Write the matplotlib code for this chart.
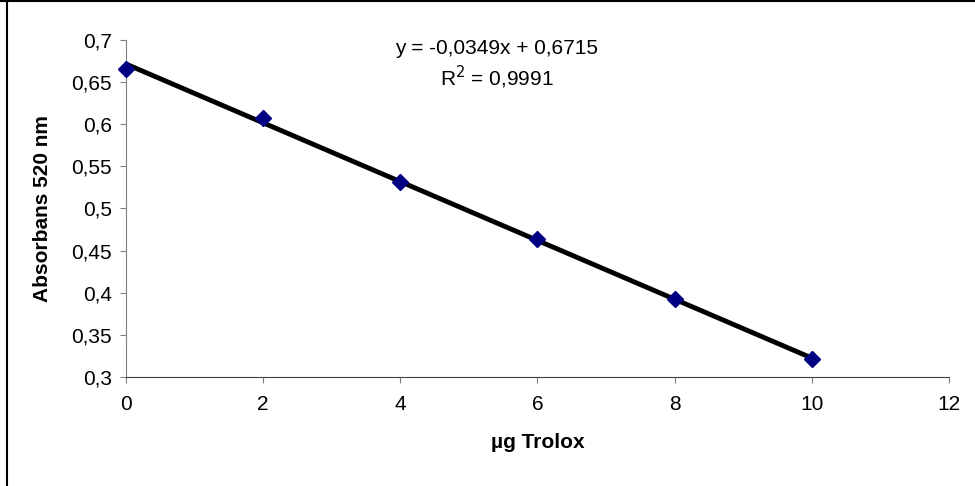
import matplotlib
matplotlib.use('Agg')
import matplotlib.pyplot as plt
from matplotlib.ticker import FuncFormatter, MultipleLocator
from matplotlib.lines import Line2D
import numpy as np

plt.rcParams['font.family'] = ['Liberation Sans', 'DejaVu Sans']

# Data
trolox_ug = [0, 2, 4, 6, 8, 10]
absorbans = [0.666, 0.608, 0.532, 0.464, 0.392, 0.321]
slope = -0.0349
intercept = 0.6715
r2_text = '0,9991'

FS = 15

fig = plt.figure(figsize=(9.75, 4.86), dpi=100)
ax = fig.add_axes([0.1292, 0.2243, 0.8441, 0.6934])

# trendline
xt = np.array([trolox_ug[0], trolox_ug[-1]])
ax.plot(xt, slope * xt + intercept, color='black', linewidth=3.5, zorder=2)
ax.plot(trolox_ug, absorbans, linestyle='none', marker='D', markersize=8,
        color='#000080', markeredgecolor='#000080', zorder=3, clip_on=False)

ax.set_xlim(0, 12)
ax.set_ylim(0.3, 0.7)
ax.xaxis.set_major_locator(MultipleLocator(2))
ax.yaxis.set_major_locator(MultipleLocator(0.05))

def comma_fmt(v, pos):
    s = ('%.2f' % v).rstrip('0').rstrip('.')
    return s.replace('.', ',')

ax.xaxis.set_major_formatter(FuncFormatter(comma_fmt))
ax.yaxis.set_major_formatter(FuncFormatter(comma_fmt))

for side in ['top', 'right']:
    ax.spines[side].set_visible(False)
ax.spines['left'].set_color('#808080')
ax.spines['bottom'].set_color('#404040')
ax.tick_params(axis='y', direction='out', length=4, color='#808080', labelsize=FS, pad=6)
ax.tick_params(axis='x', direction='out', length=4, color='#808080', labelsize=FS, pad=9)

ax.set_xlabel('µg Trolox', fontsize=FS, fontweight='bold', labelpad=14)
ax.set_ylabel('Absorbans 520 nm', fontsize=FS, fontweight='bold', labelpad=14)

eq = 'y = %sx + %s' % (('%.4f' % slope).replace('.', ','), ('%.4f' % intercept).replace('.', ','))
fig.text(497 / 975, 1 - 49 / 486, eq, ha='center', va='center', fontsize=FS)
fig.text(497 / 975, 1 - 77 / 486, 'R$^2$ = ' + r2_text, ha='center', va='center', fontsize=FS)

# outer chart border (left and top only visible in the crop)
fig.add_artist(Line2D([6.5 / 975, 6.5 / 975], [0, 1], transform=fig.transFigure, color='black', linewidth=1.5))
fig.add_artist(Line2D([0, 1], [1 - 1 / 486, 1 - 1 / 486], transform=fig.transFigure, color='black', linewidth=1.5))

fig.savefig('out.png', dpi=100)
